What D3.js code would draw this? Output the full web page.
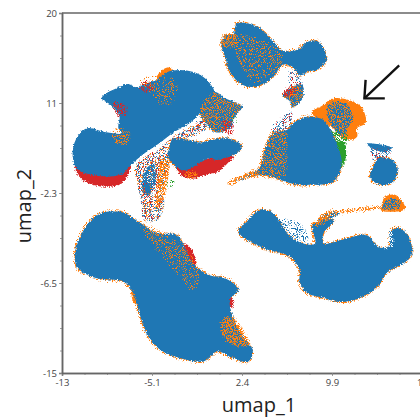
<!DOCTYPE html>
<html>
<head>
<meta charset="utf-8">
<script src="https://cdn.jsdelivr.net/npm/d3@7"></script>
<style>
  html, body { margin: 0; padding: 0; background: #fff; }
  svg { display: block; }
  text { font-family: "Open Sans", sans-serif; }
</style>
</head>
<body>
<svg></svg>
<script>
const w = 420
const h = 420

// axis ticks, labels are as printed on the figure (rounded oddly)
const xTicks = [-12.6, -5.1, 2.4, 9.9, 17.4]
const xTickLabels = ['-13', '-5.1', '2.4', '9.9', '17']
const yTicks = [-15, -6.25, 2.5, 11.25, 20]
const yTickLabels = ['-15', '-6.5', '-2.3', '11', '20']
const xAxisLabel = 'umap_1'
const yAxisLabel = 'umap_2'

// cluster outlines, [umap_1, umap_2]
const clusterMain = [[-9.3,11.7],[-8.9,12.2],[-8,12.7],[-7.1,13.1],[-6.3,12.7],[-5.9,13],[-4.7,13.5],[-4.1,14.1],[-3.4,14.4],[-2.2,14.4],[-1.1,14],[-0.3,13.2],[0.1,12.3],[-0.3,11.5],[-0.9,10.6],[-1.4,9.9],[-2.2,9.1],[-3.4,8.3],[-4.4,7.4],[-5.9,6.2],[-6.7,5.4],[-7.1,4.9],[-7.5,4.4],[-8.6,4.1],[-10.3,4.3],[-11.2,4.7],[-11.6,5.4],[-11.7,6.7],[-11.3,8],[-10.5,8.8],[-8.9,8.4],[-7.6,8.3],[-7.9,8.8],[-7.8,9.9],[-8,10.4],[-8.6,11.1]]
const clusterLobe = [[-3.4,7.7],[-2.2,7.7],[-1.1,7.4],[-0.3,7.6],[1.2,7.8],[2.4,7.1],[2,6.4],[1.2,6],[0.3,5.7],[-0.3,5.9],[-1.4,5.2],[-2.5,4.7],[-3.4,5.4],[-3.8,6.2],[-3.6,7]]
const clusterMix = [[-1.1,10.4],[0.1,12.3],[1,11.7],[2.4,10.9],[1.8,9.9],[1.4,8.8],[0.2,8.4],[-0.5,9.1]]
const clusterTop = [[2,19],[2.8,19],[3.9,18.5],[4.9,17.4],[5.7,16.4],[7,16.4],[7.9,17.2],[8.6,17.3],[9.2,16.6],[9.4,15.4],[8.7,14.5],[7.8,14.3],[7.5,14],[7.1,14],[6.7,14.7],[5.8,15],[5.3,14.3],[4.5,13.3],[3.2,12.8],[2.2,13.2],[1.4,14.3],[1,15.7],[0.7,17.1],[1,17.8],[1.7,17.9],[1.8,18.5]]
const clusterSmall = [[5.8,12],[6.6,12.8],[7.4,13],[7.5,11.8],[6.6,10.8],[6.4,11.4]]
const clusterCentre = [[7.8,9.9],[9.2,9.6],[9.7,8.8],[10.4,7],[10.7,5.2],[10,3.6],[8.1,3.3],[7,3.3],[5.6,3.8],[4.5,4.2],[3.3,4.3],[3.9,5],[4.3,6.7],[5,8.3],[6.1,8.6],[6.8,9.4]]
const clusterRound = [[13.9,5.9],[14.9,5.7],[15.4,4.7],[15,3.6],[13.9,3.3],[13.1,4],[13.3,5]]
const clusterWedge = [[12.8,7.3],[14.9,6.9],[14.3,6.5],[13.5,6.7]]
const clusterRight = [[2.1,-1.2],[2.8,-0.3],[3.9,0.9],[4.9,0.6],[6.4,-1.7],[7.5,-2.4],[8.5,-2.4],[8.3,-0.6],[10.1,-0.1],[9.2,-1.4],[9.2,-2.4],[11.4,-1.8],[12.8,-1.6],[13.9,-2.8],[14.7,-2.6],[14.7,-1.3],[15.3,-0.9],[16,-1.3],[16.6,-3],[16.4,-3.8],[15.3,-4.7],[14.5,-5.2],[13.7,-6.6],[12.2,-7.7],[10.6,-8.1],[9.2,-7.7],[7.8,-7.2],[7.2,-6.1],[7.2,-5],[6.4,-3.7],[4.5,-3],[2.5,-1.8]]
const clusterGiant = [[-8.3,0.7],[-7.5,0.6],[-6.1,-0.4],[-4.7,-1.4],[-3,-1.6],[-2.4,-2.7],[-1.7,-4.3],[-0.3,-5.5],[0.8,-5.7],[1.8,-6.4],[2.1,-6.9],[1.4,-7.9],[1.7,-9.8],[2.5,-11.5],[3.3,-12.8],[2.9,-13.9],[1.4,-13.4],[0.3,-12.9],[-0.5,-13.7],[-1.1,-13.9],[-4.2,-12.9],[-5.3,-11.6],[-5.9,-10.1],[-6.3,-8.6],[-6.8,-6.9],[-7.5,-6.1],[-9.7,-5.8],[-11.3,-4.8],[-11.5,-3.3],[-11.1,-1.8],[-10.3,-0.3],[-9.2,0.6]]
const blueBit = [[-5.9,3.5],[-5.1,3.2],[-5.3,2.3],[-5.7,2.4]]

const stem = [[-6.4,5.2],[-5.3,6.2],[-4,6.7],[-3.6,5.7],[-3.8,4.2],[-4.2,2.8],[-4,1.3],[-4.6,-0.1],[-5.7,-0.1],[-5.9,1.3],[-6.1,2.8],[-6.4,4.3]]
const band = [[-4.4,6.7],[-3.2,8],[-1.1,9.4],[-0.1,10.3],[-0.5,8.8],[-1.9,8],[-3.4,7.6],[-4,6.7]]
const capMix = [[9.6,11.1],[11,11.2],[11.7,9.8],[11.2,8.8],[11,8],[10.2,8.6],[9.6,9.8]]
const bridgeA = [[5,8.9],[5.8,9.9],[6.6,10.4],[6.4,8.9],[5.2,8.3]]
const bridgeB = [[6.4,14.3],[7.2,14],[7.5,12.8],[6.6,12.7]]
const bridgeC = [[13.2,6.7],[14.9,6.7],[14.3,5.7],[13.5,5.7]]

const blueAreas = [clusterMain, clusterLobe, clusterMix, clusterSmall, clusterTop, clusterCentre, clusterRound, clusterWedge, clusterRight, clusterGiant, blueBit]
const fringeAreas = [clusterTop, clusterCentre, clusterRound, clusterRight, clusterGiant, clusterLobe]

const redAreas = [
  [[-11.5,5.2],[-11.1,4],[-10.3,3.4],[-8.6,3.1],[-7.6,3.5],[-7,4.5],[-6.9,5.2],[-9.4,4.7]],
  [[-3.4,5.7],[-3.1,4.9],[-2.5,4.1],[-1.7,3.9],[-0.3,4.4],[0.3,4.5],[1.2,5.4],[1.7,6.1],[1,6.2],[-0.3,5.9],[-1.6,5.4],[-2.5,4.9]],
  [[-2.5,-2.7],[-2.2,-2.5],[-1.4,-4.2],[-1.7,-4.6]],
  [[1.2,-7.7],[1.6,-7.7],[1.6,-8.6],[1.3,-8.6]]
]
const orangeAreas = [
  [[8.2,10.3],[9.1,11],[10,11.7],[11.4,11.5],[12.4,10.8],[12.7,9.3],[12,8.8],[12,8],[11.6,7.7],[10.8,7.8],[10,8.8],[9.3,9.3]],
  [[-4.7,13.7],[-4.2,14.5],[-3.6,14.7],[-3.4,14],[-4.2,13.5]],
  [[14,1.1],[14.3,2.1],[15.2,2.3],[16,1.1],[15.8,0.8],[14,0.8]],
  [[-6.8,-6.7],[-6.4,-6.9],[-6.3,-8.2],[-6.6,-8.2]]
]
const greenAreas = [
  [[10.3,7.5],[10.9,7.5],[11,5.6],[10.6,5],[10.4,6.3]]
]
const greenDense = [
  [[9.6,8.4],[11.2,8.4],[11.2,7.3],[10,7.3]]
]

// mixed regions, drawn as stipple over the solid colours
const blueHeavy = [
  capMix,
  [[14.4,1.8],[15.5,1.8],[15.6,1],[14.2,1]],
  [[8.6,-0.4],[9.4,0.5],[10.6,0.6],[10.2,0.2],[9.4,-0.2]],
  [[1.8,3.7],[2.4,4],[3.6,4.6],[3.6,4.3],[2.4,3.8]],
  [[-5.7,4.7],[-4.9,5.3],[-4.9,3.2],[-5.6,3.2]]
]
const orangeStreak = [
  [[8.5,-0.6],[9.3,0.6],[11,0.9],[13.5,1.2],[14.1,1],[11,0.55],[9.8,0.15],[8.9,-0.7]],
  [[1.2,3.5],[2.2,4.1],[3.5,4.7],[3.7,4.2],[2.2,3.7],[1.5,3.2]],
  [[-4.3,5.8],[-3.7,5.7],[-3.8,3.5],[-4.2,1.5],[-4.7,1],[-4.6,3.5]],
  [[-2.3,4.5],[-1.3,4.5],[-1.3,4],[-2.2,4]],
  [[0.8,17.7],[1.8,17.9],[2,16.9],[0.9,16.7]],
  [[0.8,-9.8],[1.7,-9.7],[3.1,-12.3],[1.8,-12.3],[0.8,-11.3]]
]
const orangeMedium = [
  [[-8.3,8.7],[-6.9,8.4],[-7.1,7.2],[-8.2,7.6]],
  [[3.3,4.3],[3.9,5],[4.3,6.7],[5,8.3],[6.2,8.3],[6.2,6.7],[6,4],[4.8,4]],
  clusterMix,
  clusterSmall
]
const redDense = [
  [[-8.3,11.3],[-7.2,11],[-7.3,10],[-8,10.1]],
  [[0.7,9.4],[1.6,9.4],[1.6,8.1],[1,8.4]],
  [[5.8,12.2],[6.6,12.9],[7,12.5],[6.2,11.8]],
  [[-6.1,13],[-5.3,13.3],[-4.9,12.7],[-5.7,12.3]]
]
const orangeSparse = [
  [[1.8,17.9],[5.8,16.2],[5.6,14.7],[3.5,13.3],[2.2,15.4]],
  [[-6.1,13.5],[-3,13.5],[-3.2,11.5],[-4,11],[-5.3,12.5]],
  [[-6.1,-0.4],[-2.4,-2.7],[-1.1,-5],[-1.5,-6.9],[-3.6,-4.5],[-5.3,-2.1]],
  stem,
  band,
  capMix
]
const blueSparse = [stem, band, bridgeA, bridgeB, bridgeC, [[5.1,-0.1],[7.2,-0.3],[8,-2.1],[6.4,-1.7]]]
const redSparse = [stem, band, bridgeA, bridgeB, bridgeC]
const greenSparse = [
  [[-3.8,3.7],[-3.2,3.7],[-3.2,3.1],[-3.8,3.1]],
  [[1.6,9.9],[2,9.9],[2,9.4],[1.6,9.4]]
]
const whiteSparse = [
  [[14,-1.3],[14.9,-1.1],[15,-2.6],[14,-2.8]]
]

const arrowShaft = [[15.5,14.9],[12.6,11.7]]
const arrowHead = [[12.7,13.5],[12.6,11.7],[14.3,11.7]]

const blue = '#1f77b4', orange = '#ff7f0e', red = '#d62728', green = '#2ca02c'

const svg = d3.select('svg')
  .attr('width', w)
  .attr('height', h);

const defs = svg.append('defs');

// edge roughness, and several densities of stipple from a noise threshold
const newFilter = id => defs.append('filter').attr('id', id)
  .attr('filterUnits', 'userSpaceOnUse')
  .attr('x', 0).attr('y', 0).attr('width', w).attr('height', h)
  .attr('color-interpolation-filters', 'sRGB');

const roughFilter = (id, seed, scale) => {
  const f = newFilter(id)
  f.append('feTurbulence').attr('type', 'fractalNoise')
    .attr('baseFrequency', 0.7).attr('numOctaves', 2).attr('seed', seed).attr('result', 'n');
  f.append('feDisplacementMap').attr('in', 'SourceGraphic').attr('in2', 'n')
    .attr('scale', scale).attr('xChannelSelector', 'R').attr('yChannelSelector', 'G');
}
const stippleFilter = (id, seed, cut) => {
  const f = newFilter(id)
  f.append('feTurbulence').attr('type', 'fractalNoise')
    .attr('baseFrequency', 1.15).attr('numOctaves', 2).attr('seed', seed).attr('result', 'n');
  f.append('feDisplacementMap').attr('in', 'SourceGraphic').attr('in2', 'n')
    .attr('scale', 6).attr('xChannelSelector', 'R').attr('yChannelSelector', 'G').attr('result', 'd');
  f.append('feColorMatrix').attr('in', 'n').attr('type', 'matrix')
    .attr('values', `0 0 0 0 0  0 0 0 0 0  0 0 0 0 0  14 0 0 0 ${-cut}`).attr('result', 'm');
  f.append('feComposite').attr('in', 'd').attr('in2', 'm').attr('operator', 'in');
}
roughFilter('rough', 3, 3.5)
roughFilter('roughWide', 9, 5)
stippleFilter('heavy', 5, 5.9)
stippleFilter('dense', 14, 6.6)
stippleFilter('dense2', 12, 6.4)
stippleFilter('medium', 27, 7.3)
stippleFilter('sparse', 7, 7.9)
stippleFilter('sparse2', 21, 7.7)
stippleFilter('sparse3', 33, 8.5)
stippleFilter('fringe', 17, 6.6)
newFilter('soft').append('feGaussianBlur').attr('stdDeviation', 0.45);

const render = () => {
  const margin = {top: 13, right: -2, bottom: 47, left: 62};
  const innerWidth = w - margin.left - margin.right;
  const innerHeight = h - margin.top - margin.bottom;

  const xScale = d3.scaleLinear()
    .domain([xTicks[0], xTicks[4]])
    .range([0, innerWidth])

  const yScale = d3.scaleLinear()
    .domain([yTicks[0], yTicks[4]])
    .range([innerHeight, 0])

  const g = svg.append('g')
    .attr('transform', `translate(${margin.left}, ${margin.top})`);

  const outline = d3.line()
    .x(d => xScale(d[0]))
    .y(d => yScale(d[1]))
    .curve(d3.curveCatmullRomClosed.alpha(0.5));

  const plot = svg.append('g').attr('filter', 'url(#soft)')

  const layer = (areas, color, filter, edge) => {
    plot.append('g')
      .attr('filter', `url(#${filter})`)
      .attr('transform', `translate(${margin.left}, ${margin.top})`)
      .selectAll('path').data(areas)
      .enter().append('path')
      .attr('d', outline)
      .attr('fill', color)
      .attr('stroke', edge ? color : 'none')
      .attr('stroke-width', edge || 0)
  }

  layer(fringeAreas, orange, 'fringe', 2.6)
  layer(redAreas, red, 'roughWide')
  layer(orangeAreas, orange, 'rough')
  layer(greenAreas, green, 'roughWide')
  layer(greenDense, green, 'dense')
  layer(blueAreas, blue, 'rough')
  layer(orangeSparse, orange, 'sparse')
  layer(blueSparse, blue, 'sparse2')
  layer(redSparse, red, 'sparse3')
  layer(greenSparse, green, 'sparse')
  layer(blueHeavy, blue, 'heavy')
  layer(orangeStreak, orange, 'dense2')
  layer(orangeMedium, orange, 'medium')
  layer(redDense, red, 'dense')
  layer(whiteSparse, '#fff', 'dense')

  // axes
  const minorX = d3.range(xTicks[0], xTicks[4], 7.5 / 4)
  const minorY = d3.range(yTicks[0], yTicks[4], 8.75 / 4)

  const xAxis = d3.axisBottom(xScale)
    .tickValues(xTicks)
    .tickFormat((d, i) => xTickLabels[i])
    .tickSizeOuter(0)
    .tickSize(3)
    .tickPadding(3)

  const yAxis = d3.axisLeft(yScale)
    .tickValues(yTicks)
    .tickFormat((d, i) => yTickLabels[i])
    .tickSizeOuter(0)
    .tickSize(3)
    .tickPadding(2)

  const xMinor = d3.axisBottom(xScale).tickValues(minorX).tickFormat('').tickSize(2).tickSizeOuter(0)
  const yMinor = d3.axisLeft(yScale).tickValues(minorY).tickFormat('').tickSize(2).tickSizeOuter(0)

  g.append('g').attr('transform', `translate(0, ${innerHeight})`).call(xMinor)
  g.append('g').call(yMinor)
  g.append('g').attr('transform', `translate(0, ${innerHeight})`).call(xAxis)
  g.append('g').call(yAxis)

  g.append('line')
    .attr('x1', 0).attr('x2', innerWidth)
    .attr('y1', yScale(yTicks[4])).attr('y2', yScale(yTicks[4]))
    .attr('stroke', '#666').attr('stroke-width', 1.5)

  g.selectAll('.domain').attr('stroke', '#666').attr('stroke-width', 1.5)
  g.selectAll('.tick line').attr('stroke', '#888').attr('stroke-width', 0.8)
  g.selectAll('.tick text')
    .attr('font-size', 9.5)
    .attr('fill', '#444')
    .style('font-family', '"Open Sans", sans-serif')

  // axis titles
  svg.append('text')
    .attr('x', 259).attr('y', 412)
    .attr('text-anchor', 'middle')
    .attr('font-size', 20)
    .attr('fill', '#222')
    .text(xAxisLabel)

  svg.append('text')
    .attr('transform', 'translate(31, 206) rotate(-90)')
    .attr('text-anchor', 'middle')
    .attr('font-size', 20)
    .attr('fill', '#222')
    .text(yAxisLabel)

  // arrow pointing at the orange cap
  const arrowLine = d3.line().x(d => xScale(d[0])).y(d => yScale(d[1]))
  g.selectAll('.arrow').data([arrowShaft, arrowHead])
    .enter().append('path')
    .attr('class', 'arrow')
    .attr('d', arrowLine)
    .attr('fill', 'none')
    .attr('stroke', '#111')
    .attr('stroke-width', 2.4)
}

render()
</script>
</body>
</html>
